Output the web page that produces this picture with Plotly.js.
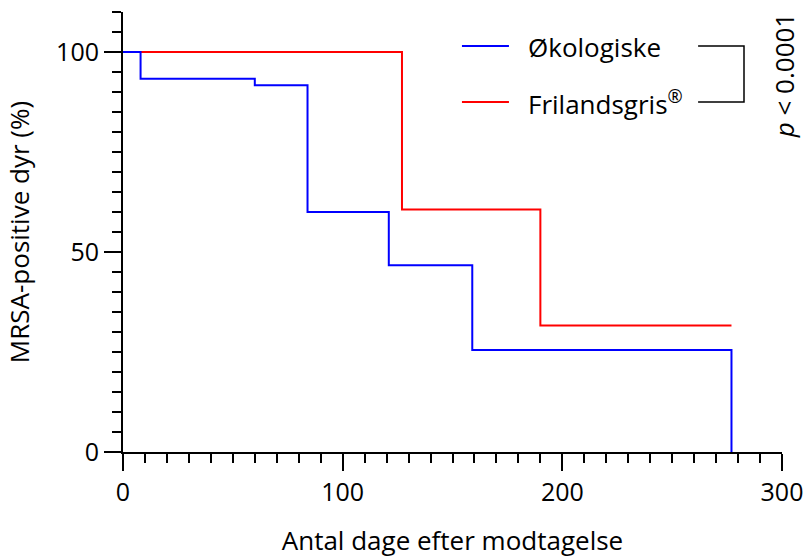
<!DOCTYPE html>
<html>
<head>
<meta charset="utf-8">
<script src="https://cdn.plot.ly/plotly-3.0.1.min.js"></script>
<style>html,body{margin:0;padding:0;background:#fff;}#chart{width:808px;height:558px;}</style>
</head>
<body>
<div id="chart"></div>
<script>
// Data (Kaplan-Meier style steps)
const seriesNames = ["Økologiske", "Frilandsgris®"];
const okoDays = [0, 8, 60, 84, 121, 159, 277];
const okoPct = [100, 93.3, 91.7, 60, 46.7, 25.5, 0];
const friDays = [0, 127, 190, 277];
const friPct = [100, 60.6, 31.6, 31.6];
const xTickVals = [0, 100, 200, 300];
const yTickVals = [0, 50, 100];
const pText = "<i>p</i> < 0.0001";

const FONT = "Open Sans, sans-serif";

const traces = [
  {x: friDays, y: friPct, mode: "lines", line: {shape: "hv", color: "#ff0000", width: 2}, name: seriesNames[1], showlegend: false, hoverinfo: "skip"},
  {x: okoDays, y: okoPct, mode: "lines", line: {shape: "hv", color: "#0000ff", width: 2}, name: seriesNames[0], showlegend: false, hoverinfo: "skip"}
];

const axisCommon = {
  showline: true, linecolor: "#000", linewidth: 2,
  ticks: "outside", ticklen: 17, tickwidth: 2, tickcolor: "#000",
  showgrid: false, zeroline: false,
  tickfont: {family: FONT, size: 25, color: "#000"},
};

const layout = {
  width: 808, height: 558,
  margin: {l: 123, r: 26, t: 12, b: 106},
  paper_bgcolor: "#fff", plot_bgcolor: "#fff",
  font: {family: FONT, color: "#000"},
  xaxis: Object.assign({}, axisCommon, {
    range: [0, 300], tickvals: xTickVals, ticktext: xTickVals.map(String),
    minor: {dtick: 10, ticks: "outside", ticklen: 9, tickwidth: 2, tickcolor: "#000", showgrid: false},
    title: {text: "Antal dage efter modtagelse", font: {family: FONT, size: 26, color: "#000"}, standoff: 37}
  }),
  yaxis: Object.assign({}, axisCommon, {
    range: [0, 110], tickvals: yTickVals, ticktext: yTickVals.map(String),
    minor: {dtick: 5, ticks: "outside", ticklen: 9, tickwidth: 2, tickcolor: "#000", showgrid: false},
    title: {text: "MRSA-positive dyr (%)", font: {family: FONT, size: 26, color: "#000"}, standoff: 19}
  }),
  shapes: [
    {type: "line", xref: "x", yref: "y", x0: 154.3, x1: 175.7, y0: 101.5, y1: 101.5, line: {color: "#0000ff", width: 2}},
    {type: "line", xref: "x", yref: "y", x0: 154.3, x1: 175.7, y0: 87.5, y1: 87.5, line: {color: "#ff0000", width: 2}},
    {type: "path", xref: "x", yref: "y", path: "M 261.8 101.5 L 282.7 101.5 L 282.7 87.5 L 261.8 87.5", line: {color: "#000", width: 1.5}}
  ],
  annotations: [
    {xref: "x", yref: "y", x: 183.3, y: 101.2, xanchor: "left", yanchor: "middle", text: seriesNames[0], showarrow: false, font: {family: FONT, size: 26, color: "#000"}},
    {xref: "x", yref: "y", x: 183.3, y: 87.2, xanchor: "left", yanchor: "middle", text: seriesNames[1].replace("®", "<sup>®</sup>"), showarrow: false, font: {family: FONT, size: 26, color: "#000"}},
    {xref: "paper", yref: "paper", x: 1.003, y: 0.856, xanchor: "center", yanchor: "middle", textangle: -90, text: pText, showarrow: false, font: {family: FONT, size: 26, color: "#000"}}
  ]
};

Plotly.newPlot("chart", traces, layout, {staticPlot: true, displayModeBar: false});
</script>
</body>
</html>
